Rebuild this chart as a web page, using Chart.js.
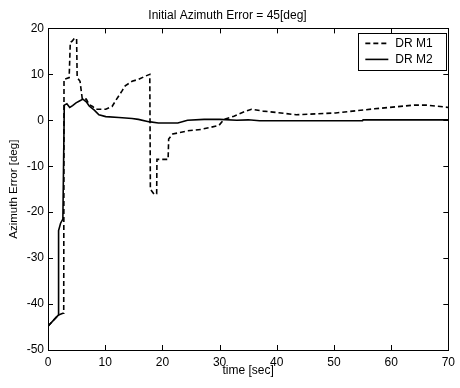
<!DOCTYPE html>
<html>
<head>
<meta charset="utf-8">
<script src="https://cdn.jsdelivr.net/npm/chart.js@4.4.1/dist/chart.umd.min.js"></script>
<style>
  html,body{margin:0;padding:0;background:#fff;}
  #wrap{width:460px;height:388px;}
</style>
</head>
<body>
<div id="wrap"><canvas id="azChart" width="460" height="388"></canvas></div>
<script>

/* ---------- data ---------- */

const xTicks = [0,10,20,30,40,50,60,70];
const yTicks = [-50,-40,-30,-20,-10,0,10,20];

// DR M1 (dashed)
const m1Time = [0,1.8,2.6,2.75,2.8,3.7,3.9,4.2,4.6,5.0,5.1,5.6,6.0,6.7,7.2,7.8,8.4,10.1,11.2,12,13,13.5,14.7,15.8,17,17.8,17.9,18.6,19.0,19.05,21,21.1,21.8,24.4,26.7,28.2,29.9,30.8,32.5,34.2,35.6,37.6,39.9,43.4,46.8,50.3,57.1,64,66.3,70];
const m1Err  = [-44.8,-42.4,-42,-42,8.9,9.3,17,17.2,17.8,17.8,9.3,8.5,4.6,4.6,3.4,3.0,2.4,2.4,3,4.6,6.5,7.5,8.5,8.9,9.6,10,-15,-16.2,-16,-8.5,-8.5,-4.1,-3.0,-2.3,-2.0,-1.6,-1.1,0.2,0.9,1.8,2.4,2.0,1.7,1.2,1.4,1.6,2.5,3.3,3.3,2.8];

// DR M2 (solid)
const m2Time = [0,1.8,1.85,2.2,2.6,2.85,3.3,3.8,4.3,4.9,5.5,6.1,6.7,7.2,8.1,8.9,10.1,12.4,14.7,15.8,17.6,19.3,22.7,24.4,27.3,30,33,35,37,55,55.1,70];
const m2Err  = [-44.8,-42.4,-24,-22.4,-21.5,3.3,3.6,2.8,3.2,3.8,4.2,4.6,4.0,3.1,2.2,1.2,0.8,0.6,0.4,0.2,-0.3,-0.6,-0.6,0,0.2,0.2,0,0.1,-0.1,-0.1,0.1,0.1];

const seriesLabels = ["DR M1","DR M2"];


/* =========================================
   Helpers
========================================= */

function toPoints(xs,ys){
    return xs.map((x,i)=>({x:x,y:ys[i]}));
}

const FONT = "'Liberation Sans', Arial, sans-serif";


/* =========================================
   Box + inward ticks (MATLAB style)
========================================= */

const boxTicksPlugin = {
    id:"boxTicks",
    afterDatasetsDraw(chart){
        const {ctx, chartArea:a, scales} = chart;
        const len = 5;
        ctx.save();
        ctx.strokeStyle = "#000";
        ctx.lineWidth = 1;
        ctx.beginPath();
        xTicks.forEach(v=>{
            const px = Math.round(scales.x.getPixelForValue(v)) + 0.5;
            ctx.moveTo(px,a.bottom); ctx.lineTo(px,a.bottom-len);
            ctx.moveTo(px,a.top);    ctx.lineTo(px,a.top+len);
        });
        yTicks.forEach(v=>{
            const py = Math.round(scales.y.getPixelForValue(v)) + 0.5;
            ctx.moveTo(a.left,py);  ctx.lineTo(a.left+len,py);
            ctx.moveTo(a.right,py); ctx.lineTo(a.right-len,py);
        });
        ctx.stroke();
        ctx.strokeRect(Math.round(a.left)+0.5, Math.round(a.top)+0.5,
                       Math.round(a.right-a.left), Math.round(a.bottom-a.top));
        ctx.restore();
    }
};


/* =========================================
   Legend box in upper right
========================================= */

const boxLegendPlugin = {
    id:"boxLegend",
    afterDraw(chart){
        const {ctx, chartArea:a} = chart;
        const w = 88, h = 37;
        const bx = a.right - w - 2, by = a.top + 5;
        ctx.save();
        ctx.fillStyle = "#fff";
        ctx.fillRect(bx,by,w,h);
        ctx.strokeStyle = "#000";
        ctx.lineWidth = 1;
        ctx.strokeRect(Math.round(bx)+0.5,Math.round(by)+0.5,w,h);
        chart.data.datasets.forEach((ds,i)=>{
            const y = by + 10 + i*16;
            ctx.beginPath();
            ctx.setLineDash(ds.borderDash || []);
            ctx.lineWidth = ds.borderWidth;
            ctx.strokeStyle = "#000";
            ctx.moveTo(bx+7,y); ctx.lineTo(bx+30,y);
            ctx.stroke();
            ctx.setLineDash([]);
            ctx.fillStyle = "#000";
            ctx.font = "12px " + FONT;
            ctx.textBaseline = "middle";
            ctx.fillText(ds.label, bx+37, y);
        });
        ctx.restore();
    }
};


/* =========================================
   Chart
========================================= */

const ctx = document.getElementById("azChart").getContext("2d");

new Chart(ctx,{
    type:"line",
    data:{
        datasets:[
            {
                label:seriesLabels[0],
                data:toPoints(m1Time,m1Err),
                borderColor:"#000",
                borderWidth:1.6,
                borderDash:[5,3],
                pointRadius:0,
                tension:0
            },
            {
                label:seriesLabels[1],
                data:toPoints(m2Time,m2Err),
                borderColor:"#000",
                borderWidth:1.6,
                pointRadius:0,
                tension:0
            }
        ]
    },
    options:{
        responsive:false,
        animation:false,
        devicePixelRatio:1,
        layout:{ padding:{ right:5, left:0, top:0, bottom:0 } },
        plugins:{
            legend:{ display:false },
            tooltip:{ enabled:false },
            title:{
                display:true,
                text:"Initial Azimuth Error = 45[deg]",
                color:"#000",
                font:{ family:FONT, size:12, weight:"normal" },
                padding:{ top:8, bottom:6 }
            }
        },
        scales:{
            x:{
                type:"linear",
                min:0, max:70,
                afterBuildTicks(scale){ scale.ticks = xTicks.map(v=>({value:v})); },
                afterFit(scale){ scale.height = 38; },
                grid:{ display:false, drawTicks:false },
                border:{ display:false },
                ticks:{ color:"#000", padding:5, maxRotation:0,
                        font:{ family:FONT, size:12 } },
                title:{
                    display:true, text:"time [sec]", color:"#000",
                    font:{ family:FONT, size:12 },
                    padding:{ top:0, bottom:10 }
                }
            },
            y:{
                type:"linear",
                min:-50, max:20,
                afterBuildTicks(scale){ scale.ticks = yTicks.map(v=>({value:v})); },
                afterFit(scale){ scale.width = 48; },
                grid:{ display:false, drawTicks:false },
                border:{ display:false },
                ticks:{ color:"#000", padding:4,
                        font:{ family:FONT, size:12 } },
                title:{
                    display:true, text:"Azimuth Error [deg]", color:"#000",
                    font:{ family:FONT, size:11.5 },
                    padding:{ top:7, bottom:0 }
                }
            }
        }
    },
    plugins:[boxTicksPlugin, boxLegendPlugin]
});

</script>
</body>
</html>
